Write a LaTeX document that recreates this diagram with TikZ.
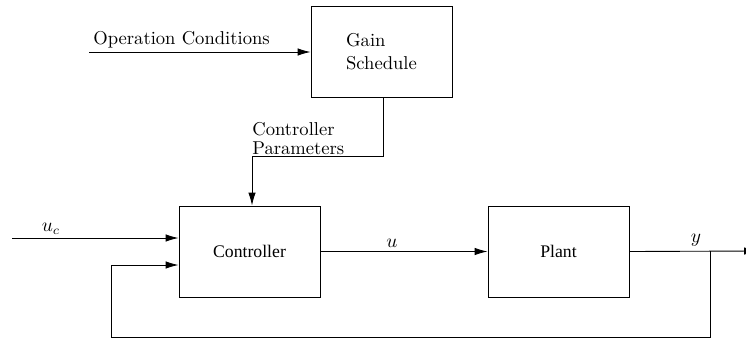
\documentclass[tikz,border=0pt]{standalone}
\usepackage{fontspec}
\newfontfamily\tnr{Liberation Serif}
\usetikzlibrary{arrows.meta}
\begin{document}
\begin{tikzpicture}[x=0.5645pt,y=-0.5645pt,
  font=\fontsize{10.5}{13}\selectfont,
  >={Latex[length=7.3pt,width=4.2pt]},
  box/.style={draw, line width=0.5pt, minimum width=79.6pt, minimum height=51.4pt, inner sep=0pt},
  wire/.style={line width=0.5pt},
  lbl/.style={inner sep=0pt}]
\useasboundingbox (0,0) rectangle (746,339);
\node[box, align=left] (gain) at (381.5,51.5) {Gain\\Schedule};
\node[box, font=\tnr\fontsize{10}{12}\selectfont] (ctrl) at (249.5,251.5) {Controller};
\node[box, font=\tnr\fontsize{10}{12}\selectfont] (plant) at (558.5,251.5) {Plant};
\coordinate (opin) at (89,52);
\coordinate (ucin) at (12,238);
\coordinate (yout) at (757,251);
\coordinate (junc) at (710,251);
\coordinate (gdown) at (383,156);
\coordinate (cpar) at (252,156);
\coordinate (fbl) at (111,337);
% operation conditions
\draw[wire,->] (opin) -- (opin -| gain.west);
\node[lbl, anchor=base west] (oplbl) at (93,44) {Operation Conditions};
% gain schedule to controller
\draw[wire,->] (gain.south -| gdown) -- (gdown) -- (cpar) -- (cpar |- ctrl.north);
\node[lbl, anchor=south west, align=left, font=\fontsize{10.5}{10.5}\selectfont] (cplbl) at (252,155) {Controller\\Parameters};
% reference input
\draw[wire,->] (ucin) -- (ucin -| ctrl.west);
\node[lbl] (uclbl) at (51,229) {$u_c$};
% controller to plant
\draw[wire,->] (ctrl.east) -- (plant.west);
\node[lbl] (ulbl) at (392,243) {$u$};
% plant output
\draw[wire,->] (plant.east) -- (yout);
\node[lbl] (ylbl) at (696,240) {$y$};
% feedback
\draw[wire,->] (junc) -- (junc |- fbl) -- (fbl) -- (111,265) -- (ctrl.west |- 0,265);
\end{tikzpicture}
\end{document}
